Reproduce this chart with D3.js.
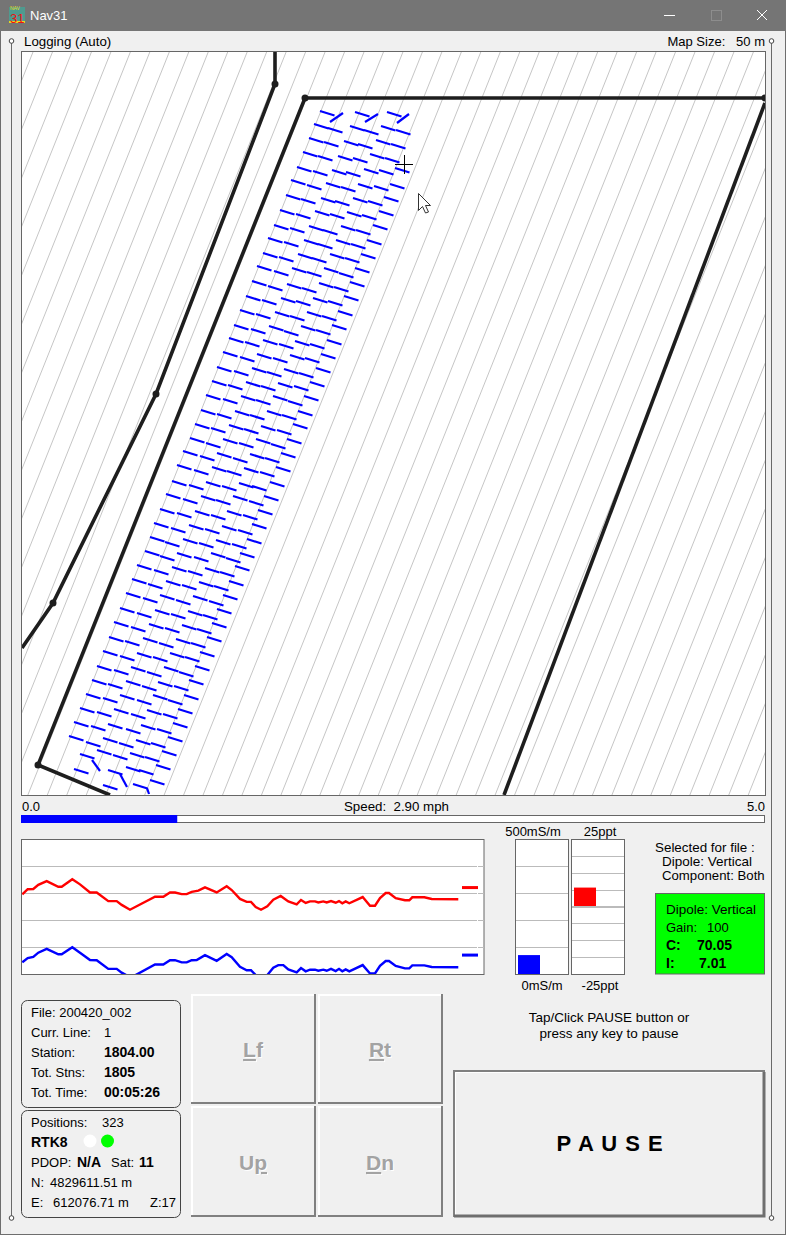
<!DOCTYPE html>
<html>
<head>
<meta charset="utf-8">
<title>Nav31</title>
<script src="https://cdnjs.cloudflare.com/ajax/libs/d3/7.8.5/d3.min.js"></script>
<style>
    html, body { margin: 0; padding: 0; background: #f0f0f0; }
    svg { display: block; font-family: "Liberation Sans", Arial, sans-serif; font-size: 13px; }
</style>
</head>
<body>
<div id="chart"></div>
<script>
// map readings, in map grid units
var roadWest = [[275, 52], [275, 84], [156, 394], [53, 603], [22, 648]];
var roadWestNodes = [[275, 84], [156, 394], [53, 603]];
var fieldEdge = [[765, 98], [305, 98], [38, 765], [110, 795]];
var fieldEdgeNodes = [[765, 98], [305, 98], [38, 765]];
var roadEast = [[765, 103], [504, 795]];

// start of each logged dash, one list per survey row
var dashRows = [
    [[320, 111], [355, 112], [387, 112]],
    [[314, 124], [328, 128], [350, 126], [364, 130], [381, 126], [396, 130]],
    [[309, 138], [324, 142], [344, 141], [358, 144], [376, 140], [391, 144]],
    [[303, 152], [318, 156], [338, 156], [353, 158], [370, 154], [385, 158]],
    [[297, 167], [313, 171], [332, 170], [346, 172], [364, 169], [379, 170], [395, 168]],
    [[291, 180], [307, 185], [326, 183], [341, 187], [358, 184], [374, 186], [390, 184]],
    [[286, 195], [301, 199], [321, 198], [335, 201], [353, 198], [368, 201], [384, 197]],
    [[280, 210], [296, 214], [315, 211], [330, 214], [347, 212], [362, 215], [379, 211]],
    [[274, 225], [290, 228], [309, 226], [323, 230], [341, 226], [356, 230], [373, 225]],
    [[268, 238], [284, 242], [304, 240], [318, 244], [336, 240], [351, 244], [367, 240]],
    [[263, 253], [279, 257], [298, 254], [312, 258], [330, 254], [345, 258], [361, 254]],
    [[257, 266], [274, 271], [292, 268], [307, 272], [324, 268], [339, 273], [355, 268]],
    [[252, 281], [268, 286], [287, 284], [302, 288], [319, 283], [334, 287], [350, 282]],
    [[246, 296], [262, 300], [281, 298], [296, 301], [313, 298], [328, 301], [344, 296]],
    [[240, 310], [256, 314], [275, 312], [290, 316], [307, 312], [322, 316], [338, 311]],
    [[234, 325], [251, 329], [269, 326], [284, 331], [301, 326], [316, 330], [332, 325]],
    [[229, 338], [245, 342], [263, 340], [279, 344], [295, 341], [310, 344], [327, 340]],
    [[223, 352], [240, 357], [257, 354], [273, 358], [290, 355], [305, 358], [321, 354]],
    [[217, 367], [234, 371], [252, 368], [267, 372], [284, 369], [299, 373], [316, 368]],
    [[212, 381], [228, 385], [246, 382], [261, 386], [278, 383], [294, 386], [310, 382]],
    [[206, 395], [223, 399], [241, 396], [256, 400], [273, 396], [288, 401], [304, 396]],
    [[201, 410], [217, 414], [235, 411], [250, 415], [267, 411], [282, 415], [298, 411]],
    [[195, 424], [211, 428], [229, 425], [244, 429], [261, 426], [277, 430], [293, 424]],
    [[190, 438], [206, 443], [223, 439], [239, 443], [256, 439], [271, 444], [287, 439]],
    [[183, 451], [200, 456], [217, 453], [233, 458], [250, 454], [265, 458], [281, 453]],
    [[177, 465], [194, 470], [212, 467], [227, 471], [244, 468], [260, 472], [276, 467]],
    [[172, 481], [189, 485], [206, 482], [222, 486], [239, 483], [252, 486], [270, 482]],
    [[166, 494], [183, 499], [201, 496], [216, 500], [233, 496], [249, 501], [264, 496]],
    [[160, 509], [177, 513], [195, 511], [211, 515], [227, 511], [243, 515], [258, 510]],
    [[154, 523], [171, 528], [189, 525], [205, 529], [222, 526], [238, 530], [252, 524]],
    [[150, 537], [165, 542], [183, 539], [199, 543], [216, 540], [232, 544], [247, 539]],
    [[145, 551], [160, 556], [177, 553], [194, 557], [211, 553], [226, 558], [240, 553]],
    [[137, 565], [154, 570], [172, 567], [188, 571], [205, 568], [220, 572], [235, 566]],
    [[132, 579], [148, 584], [166, 581], [182, 585], [199, 582], [214, 586], [229, 581]],
    [[126, 593], [143, 598], [160, 595], [176, 600], [193, 596], [209, 601], [223, 595]],
    [[120, 608], [137, 613], [155, 610], [171, 614], [188, 611], [203, 615], [217, 609]],
    [[114, 622], [131, 627], [149, 624], [165, 628], [182, 625], [197, 629], [212, 623]],
    [[109, 637], [125, 641], [143, 638], [159, 643], [176, 639], [191, 643], [207, 637]],
    [[103, 651], [120, 656], [137, 653], [153, 657], [170, 653], [185, 657], [200, 652]],
    [[97, 666], [114, 670], [131, 667], [147, 672], [164, 667], [179, 672], [195, 666]],
    [[92, 680], [108, 684], [126, 681], [142, 686], [158, 682], [174, 686], [189, 680]],
    [[86, 694], [103, 698], [120, 695], [137, 700], [153, 695], [168, 700], [184, 695]],
    [[80, 708], [97, 712], [114, 709], [131, 714], [147, 710], [163, 714], [178, 709]],
    [[74, 722], [91, 726], [108, 724], [126, 729], [141, 725], [157, 729], [173, 723]],
    [[69, 736], [86, 742], [103, 738], [119, 743], [136, 740], [151, 743], [168, 737]],
    [[80, 754], [97, 750], [113, 755], [130, 753], [145, 757], [162, 751]],
    [[74, 769], [108, 770], [126, 767], [139, 770], [156, 765]],
    [[103, 785], [133, 784], [150, 780]]
];
// longer turn segments at the row ends
var dashTails = [
    [[330, 122], [343, 113]], [[365, 122], [378, 114]], [[397, 123], [409, 114]],
    [[92, 760], [100, 771]], [[120, 774], [127, 787]], [[147, 788], [149, 794]]
];

// strip chart, red is inphase (ppt), blue is conductivity (mS/m)
var redSamples = [1.3, 6.7, 12.3, 17.3, 25.7, 37.3, 40.7, 51.3, 59, 69, 75.7, 87.3, 95.7, 100.7, 109, 134, 142.3, 149, 154, 160.7, 165.7, 170.7, 177.3, 184, 195.7, 205.7, 210.7, 219, 225.7, 230, 234.7, 240, 246.3, 252.3, 259.7, 267.3, 275.7, 280, 284.7, 289, 294, 297.3, 302.3, 305.7, 310, 314.7, 318, 321.3, 324.7, 328.3, 341.7, 349, 354, 359, 364.7, 368, 374.7, 384, 388.3, 391.3, 403.3, 410.7, 437.3];
var redValues = [4.5, 6.4, 6.5, 8.0, 9.4, 7.3, 7.3, 10.1, 8.2, 5.2, 5.2, 2.0, 2.0, 0.6, -1.2, 3.6, 3.6, 5.2, 5.2, 4.6, 4.6, 5.4, 5.9, 7.1, 5.2, 7.5, 6.1, 2.8, 1.7, 1.7, -0.2, -1.2, 0.1, 2.5, 3.9, 1.9, 0.8, 2.4, 1.3, 1.9, 1.9, 1.5, 1.9, 1.5, 2.0, 1.4, 2.0, 1.2, 1.9, 1.2, 3.5, 0.3, 0.3, 3.1, 5.0, 5.0, 3.1, 2.3, 2.3, 3.4, 3.4, 2.8, 2.7];
var blueSamples = [1.3, 6.7, 12.3, 17.3, 25.7, 37.3, 40.7, 51.3, 59, 69, 75.7, 87.3, 95.7, 100.7, 105.7, 114, 134, 142.3, 149, 154, 160.7, 165.7, 170.7, 175.7, 184, 195.7, 205.7, 210.7, 219, 225.7, 230, 234.7, 246.3, 252.3, 257.3, 262.3, 267.3, 275.7, 280, 284.7, 289, 294, 297.3, 302.3, 305.7, 310, 314.7, 318, 321.3, 324.7, 328.3, 341.7, 349, 354, 359, 364.7, 368, 374.7, 384, 388.3, 391.3, 403.3, 410.7, 437.3];
var blueValues = [43, 59, 63, 79, 93, 73, 73, 99, 79, 52, 51, 19, 19, 5, -5, -5, 35, 35, 51, 51, 43, 43, 51, 52, 70, 49, 74, 62, 27, 14, 14, -4, -4, 23, 33, 33, 17, 6, 22, 10, 16, 16, 12, 16, 12, 19, 11, 19, 10, 17, 10, 33, 2, 2, 30, 48, 48, 30, 21, 21, 32, 32, 26, 25];

var currentC = 70.05;
var currentI = 7.01;
var speedBar = 1.05;
var speedMax = 5;
var conductTicks = [100, 200, 300, 400];
var inphaseTicks = [-18.75, -12.5, -6.25, 6.25, 12.5, 18.75];

var fileLabels = [
    ["File: 200420_002", null], ["Curr. Line:", "1"], ["Station:", "1804.00"],
    ["Tot. Stns:", "1805"], ["Tot. Time:", "00:05:26"]
];
var buttonNames = ["Lf", "Rt", "Up", "Dn"];

var width = 786, height = 1235;
var svg = d3.select("#chart").append("svg")
    .attr("width", width)
    .attr("height", height);

function label(x, y, txt, anchor, weight, size, fill) {
    return svg.append("text")
        .attr("x", x)
        .attr("y", y)
        .attr("text-anchor", anchor || "start")
        .attr("font-weight", weight || "normal")
        .attr("font-size", size || 13)
        .attr("fill", fill || "#000")
        .text(txt);
}

// window chrome
svg.append("rect").attr("x", 0.5).attr("y", 0.5).attr("width", 785).attr("height", 1234)
    .attr("fill", "#f0f0f0").attr("stroke", "#6e6e6e");
svg.append("rect").attr("width", width).attr("height", 31).attr("fill", "#757575");
svg.append("rect").attr("x", 9).attr("y", 7).attr("width", 16).attr("height", 16).attr("fill", "#4f9a8f");
svg.append("rect").attr("x", 9).attr("y", 21).attr("width", 16).attr("height", 2).attr("fill", "#e6d820");
label(10, 9.5, "NAV", "start", "normal", 5, "#e6d820");
label(10, 23, "31", "start", "normal", 13, "#f01010");
label(30, 20, "Nav31", "start", "normal", 13, "#fff");
svg.append("line").attr("x1", 664).attr("x2", 675).attr("y1", 15.5).attr("y2", 15.5).attr("stroke", "#fff");
svg.append("rect").attr("x", 711.5).attr("y", 10.5).attr("width", 10).attr("height", 10).attr("fill", "none").attr("stroke", "#8d8d8d");
svg.append("path").attr("d", "M757,10L767,20M767,10L757,20").attr("stroke", "#fff").attr("fill", "none");

// sizing handles around the panel
[11, 771].forEach(function (hx) {
    svg.append("line").attr("x1", hx + 0.5).attr("x2", hx + 0.5).attr("y1", 41).attr("y2", 1218).attr("stroke", "#6a6a6a");
    [41, 1218].forEach(function (hy) {
        svg.append("circle").attr("cx", hx + 0.5).attr("cy", hy).attr("r", 2.3).attr("fill", "#fff").attr("stroke", "#444");
    });
});

label(24, 46, "Logging (Auto)").attr("font-size", 13.3);
label(765, 46, "Map Size:   50 m", "end").style("white-space", "pre");

// map
var mapLeft = 22, mapRight = 765, mapTop = 52, mapBottom = 795;
var mapX = d3.scaleLinear().domain([22, 765]).range([mapLeft, mapRight]);
var mapY = d3.scaleLinear().domain([52, 795]).range([mapTop, mapBottom]);

svg.append("clipPath").attr("id", "mapClip").append("rect")
    .attr("x", mapLeft).attr("y", mapTop).attr("width", mapRight - mapLeft).attr("height", mapBottom - mapTop);
svg.append("rect").attr("x", mapLeft - 0.5).attr("y", mapTop - 0.5)
    .attr("width", mapRight - mapLeft + 1).attr("height", mapBottom - mapTop + 1)
    .attr("fill", "#fff").attr("stroke", "#666");

var map = svg.append("g").attr("clip-path", "url(#mapClip)");

// hatch runs parallel to the field edge
var hatchLean = 0.4;
map.selectAll(".hatch")
    .data(d3.range(33, 1100, 19.47))
    .enter().append("line")
    .attr("class", "hatch")
    .attr("x1", function (d) { return mapX(d); })
    .attr("y1", mapY(52))
    .attr("x2", function (d) { return mapX(d - hatchLean * 743); })
    .attr("y2", mapY(795))
    .attr("stroke", "#c6c6c6")
    .attr("stroke-width", 1);

var mapLine = d3.line()
    .x(function (d) { return mapX(d[0]); })
    .y(function (d) { return mapY(d[1]); });

[roadWest, fieldEdge, roadEast].forEach(function (r) {
    map.append("path").attr("d", mapLine(r))
        .attr("fill", "none").attr("stroke", "#1e1e1e").attr("stroke-width", 3.6);
});
map.selectAll(".node")
    .data(roadWestNodes.concat(fieldEdgeNodes))
    .enter().append("circle")
    .attr("class", "node")
    .attr("cx", function (d) { return mapX(d[0]); })
    .attr("cy", function (d) { return mapY(d[1]); })
    .attr("r", 3.5)
    .attr("fill", "#1e1e1e");

var dashRun = 14.5, dashRise = 4.5;
map.selectAll(".dash")
    .data(d3.merge(dashRows))
    .enter().append("line")
    .attr("class", "dash")
    .attr("x1", function (d) { return mapX(d[0]); })
    .attr("y1", function (d) { return mapY(d[1]); })
    .attr("x2", function (d) { return mapX(d[0] + dashRun); })
    .attr("y2", function (d) { return mapY(d[1] + dashRise); })
    .attr("stroke", "#0000ff")
    .attr("stroke-width", 2.2);
map.selectAll(".tail")
    .data(dashTails)
    .enter().append("path")
    .attr("class", "tail")
    .attr("d", mapLine)
    .attr("fill", "none")
    .attr("stroke", "#0000ff")
    .attr("stroke-width", 2.2);

// crosshair and mouse pointer
map.append("path").attr("d", "M395,164.5H413M404.5,155V174").attr("stroke", "#000").attr("fill", "none");
map.append("path").attr("d", "M418.5,193.5V210.5L422.5,206.5L425.5,213L428.5,212L425.5,205.5H430.5Z")
    .attr("fill", "#fff").attr("stroke", "#333");

// speed bar
label(22, 811, "0.0");
label(765, 811, "5.0", "end");
label(396.5, 811, "Speed:  2.90 mph", "middle").attr("font-size", 13.3).style("white-space", "pre");
var speedX = d3.scaleLinear().domain([0, speedMax]).range([21, 765]);
svg.append("rect").attr("x", 21.5).attr("y", 815.5).attr("width", 743).attr("height", 7)
    .attr("fill", "#fff").attr("stroke", "#666");
svg.append("rect").attr("x", speedX(0)).attr("y", 815).attr("width", speedX(speedBar) - speedX(0)).attr("height", 8)
    .attr("fill", "#0000ff");

// strip chart
var stripTop = 839, stripBottom = 974;
var sampleX = d3.scaleLinear().domain([0, 463]).range([21, 484]);
var inphaseY = d3.scaleLinear().domain([-25, 25]).range([stripBottom, stripTop]);
var conductY = d3.scaleLinear().domain([0, 500]).range([stripBottom, stripTop]);

svg.append("rect").attr("x", 21.5).attr("y", stripTop + 0.5).attr("width", 462.5).attr("height", stripBottom - stripTop)
    .attr("fill", "#fff").attr("stroke", "#666");
svg.append("clipPath").attr("id", "stripClip").append("rect")
    .attr("x", 22).attr("y", stripTop + 1).attr("width", 462).attr("height", stripBottom - stripTop - 1);
var strip = svg.append("g").attr("clip-path", "url(#stripClip)");

strip.selectAll(".grid")
    .data(conductTicks)
    .enter().append("line")
    .attr("class", "grid")
    .attr("x1", 22).attr("x2", 484)
    .attr("y1", function (d) { return Math.round(conductY(d)) + 0.5; })
    .attr("y2", function (d) { return Math.round(conductY(d)) + 0.5; })
    .attr("stroke", "#bbb");
strip.append("line").attr("x1", 477.5).attr("x2", 477.5).attr("y1", stripTop).attr("y2", stripBottom)
    .attr("stroke", "#fff");

var stripLine = d3.line().x(function (d) { return sampleX(d[0]); });
strip.append("path")
    .attr("d", stripLine.y(function (d) { return inphaseY(d[1]); })(d3.zip(redSamples, redValues)))
    .attr("fill", "none").attr("stroke", "#ff0000").attr("stroke-width", 2.4);
strip.append("path")
    .attr("d", stripLine.y(function (d) { return conductY(d[1]); })(d3.zip(blueSamples, blueValues)))
    .attr("fill", "none").attr("stroke", "#0000ff").attr("stroke-width", 2.4);
strip.append("rect").attr("x", sampleX(441)).attr("y", inphaseY(currentI) - 1.5).attr("width", 16).attr("height", 3).attr("fill", "#ff0000");
strip.append("rect").attr("x", sampleX(441)).attr("y", conductY(currentC) - 1.5).attr("width", 16).attr("height", 3).attr("fill", "#0000ff");

// level meters
function meter(x0, ticks, y, from, to, color) {
    svg.append("rect").attr("x", x0 + 0.5).attr("y", stripTop + 0.5).attr("width", 53).attr("height", stripBottom - stripTop)
        .attr("fill", "#fff").attr("stroke", "#666");
    svg.selectAll(null).data(ticks).enter().append("line")
        .attr("x1", x0 + 1).attr("x2", x0 + 53)
        .attr("y1", function (d) { return Math.round(y(d)) + 0.5; })
        .attr("y2", function (d) { return Math.round(y(d)) + 0.5; })
        .attr("stroke", "#bbb");
    svg.append("rect").attr("x", x0 + 3).attr("width", 22)
        .attr("y", y(to)).attr("height", y(from) - y(to)).attr("fill", color);
}
meter(515, conductTicks, conductY, 0, currentC, "#0000ff");
meter(571, inphaseTicks, inphaseY, 0, currentI, "#ff0000");
svg.append("line").attr("x1", 572).attr("x2", 624).attr("y1", inphaseY(0) + 0.5).attr("y2", inphaseY(0) + 0.5)
    .attr("stroke", "#bbb").attr("stroke-width", 2);

label(533, 836, "500mS/m", "middle");
label(600, 836, "25ppt", "middle");
label(542, 990, "0mS/m", "middle");
label(600, 990, "-25ppt", "middle");

label(655, 852, "Selected for file :").attr("font-size", 13.4);
label(662, 866, "Dipole: Vertical").attr("font-size", 13.5);
label(662, 880, "Component: Both").attr("font-size", 13.2);

svg.append("rect").attr("x", 655.5).attr("y", 893.5).attr("width", 109).attr("height", 80.5)
    .attr("fill", "#00ff00").attr("stroke", "#666");
label(666, 914, "Dipole: Vertical").attr("font-size", 13.5);
label(666, 932, "Gain:");
label(707, 932, "100");
label(666, 950, "C:", "start", "bold", 14);
label(697, 950, currentC.toFixed(2), "start", "bold", 14);
label(666, 968, "I:", "start", "bold", 14);
label(699, 968, currentI.toFixed(2), "start", "bold", 14);

// file and position boxes
svg.append("rect").attr("x", 21.5).attr("y", 1000.5).attr("width", 159).attr("height", 107).attr("rx", 6)
    .attr("fill", "none").attr("stroke", "#444");
svg.append("rect").attr("x", 21.5).attr("y", 1110.5).attr("width", 159).attr("height", 107).attr("rx", 6)
    .attr("fill", "none").attr("stroke", "#444");

fileLabels.forEach(function (row, i) {
    var y = 1017 + i * 20;
    label(31, y, row[0]);
    if (row[1] !== null) label(104, y, row[1], "start", i < 2 ? "normal" : "bold", i < 2 ? 13 : 14);
});

label(31, 1127, "Positions:");
label(102, 1127, "323");
label(31, 1147, "RTK8", "start", "bold", 14);
svg.append("circle").attr("cx", 90).attr("cy", 1141).attr("r", 6.5).attr("fill", "#fff");
svg.append("circle").attr("cx", 107.5).attr("cy", 1141).attr("r", 6.5).attr("fill", "#00ff00");
label(31, 1167, "PDOP:");
label(77, 1167, "N/A", "start", "bold", 14);
label(111, 1167, "Sat:");
label(139, 1167, "11", "start", "bold", 14);
label(31, 1187, "N:");
label(50, 1187, "4829611.51 m");
label(31, 1207, "E:");
label(53, 1207, "612076.71 m");
label(150, 1207, "Z:17");

// buttons
function button(x, y, w, h) {
    svg.append("rect").attr("x", x).attr("y", y).attr("width", w).attr("height", h).attr("fill", "#f0f0f0");
    svg.append("path").attr("d", "M" + (x + 1) + "," + (y + h) + "V" + (y + 1) + "H" + (x + w))
        .attr("fill", "none").attr("stroke", "#fff").attr("stroke-width", 2);
    svg.append("path").attr("d", "M" + x + "," + (y + h - 1) + "H" + (x + w - 1) + "V" + y)
        .attr("fill", "none").attr("stroke", "#808080").attr("stroke-width", 2);
}
var buttonBoxes = [[191, 994], [318, 994], [191, 1106], [318, 1106]];
// which letter of each caption carries the keyboard underline
var underlined = [0, 0, 1, 0];
buttonNames.forEach(function (name, i) {
    var b = buttonBoxes[i];
    button(b[0], b[1], 125, i < 2 ? 110 : 111);
    [["#fff", 1], ["#a3a3a3", 0]].forEach(function (s) {
        var t = svg.append("text")
            .attr("x", b[0] + 62 + s[1])
            .attr("y", (i < 2 ? 1057 : 1170) + s[1])
            .attr("text-anchor", "middle")
            .attr("font-weight", "bold")
            .attr("font-size", 21)
            .attr("fill", s[0]);
        name.split("").forEach(function (ch, k) {
            t.append("tspan").text(ch)
                .style("text-decoration", k === underlined[i] ? "underline" : "none");
        });
    });
});

label(609, 1022, "Tap/Click PAUSE button or", "middle").attr("font-size", 13.5);
label(609, 1038, "press any key to pause", "middle").attr("font-size", 13.5);

svg.append("rect").attr("x", 454).attr("y", 1071).attr("width", 310).attr("height", 145)
    .attr("fill", "#f0f0f0").attr("stroke", "#808080").attr("stroke-width", 2);
svg.append("path").attr("d", "M455.5,1215V1072.5H763").attr("fill", "none").attr("stroke", "#fff");
svg.append("path").attr("d", "M454,1216H764V1072").attr("fill", "none").attr("stroke", "#6e6e6e").attr("stroke-width", 3);
label(610, 1151, "P A U S E", "middle", "bold", 22).style("letter-spacing", "1px");
</script>
</body>
</html>
